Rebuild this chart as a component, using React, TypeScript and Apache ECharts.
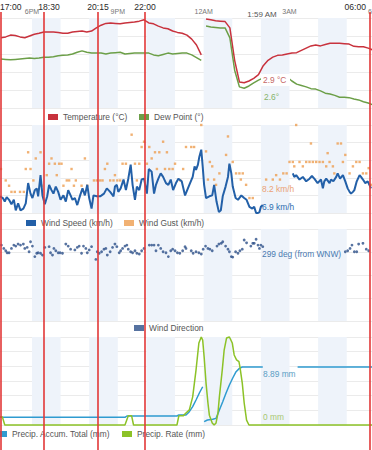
import React, { useEffect, useRef } from "react";
import * as echarts from "echarts";

// ---------- DATA (x = minutes after 17:00) ----------
const hourTickMinutes = [60, 240, 420, 600];
const hourTickLabels = ["6PM", "9PM", "12AM", "3AM"];
const shadedHourRanges = [
  [60, 120], [180, 240], [300, 360], [420, 480], [540, 600], [660, 720],
];

const tempStartMinute = -5;
const tempStepMinutes = 10;
const dayBreakMinute = 420;
const temperature = [
  7.8, 7.9, 8.1, 8.05, 7.9, 7.8, 8.0, 8.2, 8.3, 8.45,
  8.45, 8.45, 8.4, 8.3, 8.3, 8.45, 8.5, 8.55, 8.45, 8.55,
  8.9, 9.2, 9.4, 9.45, 9.4, 9.35, 9.45, 9.5, 9.55, 9.65,
  9.8, 9.45, 9.35, 9.1, 8.9, 8.8, 8.55, 8.4, 8.3, 8.1,
  7.65, 7.0, 5.9, 9.9, 9.8, 9.7, 9.65, 9.6, 8.9, 5.3,
  2.9, 2.8, 3.0, 3.3, 3.7, 4.7, 5.3, 5.65, 5.85, 5.9,
  6.0, 6.1, 6.15, 6.4, 6.65, 6.9, 7.0, 6.9, 7.05, 7.2,
  7.2, 7.2, 7.15, 7.1, 6.85, 6.8, 6.8, 6.65, 6.45,
];
const dewPoint = [
  5.45, 5.4, 5.35, 5.4, 5.45, 5.5, 5.55, 5.5, 5.55, 5.65,
  5.65, 5.7, 5.8, 5.85, 5.9, 6.0, 6.2, 6.35, 6.2, 6.1,
  6.1, 6.1, 6.0, 6.1, 6.15, 6.2, 6.0, 6.05, 6.1, 6.1,
  6.1, 6.1, 5.9, 5.8, 5.95, 6.1, 6.0, 6.05, 6.1, 6.1,
  5.9, 5.6, 5.3, 9.1, 9.0, 8.95, 8.9, 8.9, 7.8, 4.2,
  2.35, 2.2, 2.45, 2.8, 3.1, 3.35, 3.45, 3.45, 3.45, 3.45,
  3.45, 3.0, 2.65, 2.5, 2.35, 2.15, 2.1, 1.9, 1.65, 1.55,
  1.4, 1.2, 1.2, 1.15, 1.0, 0.9, 0.7, 0.55, 0.35,
];

const windSpeed: [number, number | null][] = [
  [-7, 7.9], [-1, 7.7], [3, 7.3], [7, 7.8], [12, 7.5], [17, 7.0], [22, 7.5], [26, 6.3], [31, 7.1], [36, 6.3],
  [42, 6.5], [47, 7.1], [52, 9.4], [57, 8.2], [61, 7.7], [66, 8.6], [70, 8.8], [73, 7.9], [78, 10.3], [82, 8.0],
  [87, 7.0], [92, 7.9], [96, 9.2], [101, 8.6], [105, 8.2], [110, 9.0], [115, 8.4], [120, 7.5], [126, 8.0], [131, 7.3],
  [136, 8.6], [141, 8.0], [145, 7.5], [150, 7.7], [155, 6.9], [161, 8.0], [166, 8.8], [171, 8.0], [176, 9.2], [180, 7.7],
  [185, 6.5], [189, 8.0], [196, 7.9], [203, 7.9], [206, 8.0], [211, 8.2], [217, 8.8], [224, 8.4], [231, 7.9], [234, 9.0],
  [238, 9.2], [241, 8.4], [246, 8.8], [252, 9.8], [257, 8.6], [262, 9.9], [267, 11.5], [271, 9.2], [276, 7.5], [280, 9.0],
  [285, 8.6], [290, 9.8], [295, 9.9], [301, 8.2], [305, 11.0], [311, 10.7], [316, 8.2], [320, 9.2], [325, 9.9], [330, 10.5],
  [335, 10.1], [341, 9.4], [346, 9.2], [351, 9.8], [356, 8.6], [362, 9.4], [367, 9.9], [374, 9.6], [381, 8.0], [390, 9.2],
  [397, 10.1], [401, 11.3], [404, 10.9], [408, 11.5], [411, 12.4], [415, 13.2], [418, 11.3], [421, 9.2], [425, 7.7], [432, 7.9],
  [438, 8.0], [442, 9.2], [447, 7.3], [452, 6.1], [456, 6.3], [460, 7.9], [466, 9.0], [471, 10.1], [474, 11.6], [478, 10.5],
  [481, 9.0], [487, 7.7], [492, 7.5], [499, 8.0], [505, 7.7], [510, 7.5], [516, 6.7], [522, 6.5], [526, 6.7], [530, 6.0],
  [534, 6.0], [537, 6.1], [540, 6.7], [544, 6.9], [575, null], [607, 10.5], [610, 10.1], [614, 10.3], [621, 9.8], [628, 10.1],
  [635, 9.6], [642, 9.9], [647, 10.2], [652, 9.9], [659, 9.4], [666, 9.8], [670, 8.8], [673, 9.6], [677, 9.9], [684, 9.4],
  [687, 9.8], [692, 9.6], [698, 10.1], [701, 10.5], [706, 9.9], [712, 10.3], [717, 9.6], [722, 8.8], [726, 8.4], [729, 8.2],
  [733, 8.4], [736, 8.6], [741, 9.6], [747, 10.3], [750, 10.1], [754, 9.8], [759, 9.4], [764, 9.6], [771, 8.8],
];

const windGust: [number, number][] = [
  [-5, 11.0], [5, 9.7], [12, 9.1], [17, 8.4], [24, 8.4], [35, 8.4], [43, 8.4], [47, 11.0], [52, 12.9], [57, 11.0],
  [63, 9.7], [68, 12.2], [78, 12.9], [80, 9.1], [91, 10.3], [96, 11.6], [101, 12.2], [108, 11.6], [112, 10.3], [117, 11.6],
  [122, 11.6], [126, 9.1], [133, 9.7], [138, 9.7], [143, 11.0], [148, 9.1], [152, 9.7], [164, 9.1], [171, 12.2], [176, 9.1],
  [190, 9.7], [196, 9.7], [203, 9.7], [208, 9.7], [213, 11.0], [218, 11.6], [224, 9.7], [231, 9.7], [234, 10.3], [239, 9.7],
  [245, 9.7], [250, 11.6], [257, 11.6], [267, 11.0], [269, 14.9], [276, 11.6], [280, 9.7], [285, 11.6], [290, 13.5], [295, 14.1],
  [301, 11.6], [306, 13.5], [311, 12.2], [318, 12.9], [322, 11.0], [327, 12.9], [335, 14.1], [339, 11.0], [343, 12.9], [348, 11.0],
  [355, 11.0], [360, 11.6], [371, 9.7], [377, 11.0], [383, 13.5], [394, 13.5], [400, 13.5], [415, 16.0], [425, 13.0], [429, 9.8],
  [433, 11.8], [438, 11.3], [442, 9.8], [446, 9.2], [453, 10.5], [467, 12.6], [471, 14.7], [474, 11.3], [481, 11.8], [488, 10.5],
  [495, 10.5], [498, 9.8], [502, 10.5], [509, 9.2], [516, 7.7], [523, 7.7], [551, 9.8], [565, 9.8], [572, 10.3], [580, 9.8],
  [587, 10.5], [594, 10.5], [600, 11.8], [607, 11.8], [610, 11.3], [614, 16.0], [621, 11.8], [628, 11.3], [635, 11.8], [642, 11.8],
  [645, 13.9], [649, 11.8], [656, 11.8], [663, 11.8], [670, 11.8], [677, 11.3], [680, 12.8], [684, 11.8], [691, 11.3], [694, 10.5],
  [701, 13.9], [708, 13.9], [712, 11.8], [717, 12.6], [726, 10.5], [733, 11.3], [740, 11.8], [747, 11.8], [754, 10.5], [761, 10.5],
  [766, 11.1], [771, 9.2],
];

const windDirection: [number, number][] = [
  [-4, 297], [1, 284], [5, 275], [8, 267], [12, 267], [17, 284], [22, 297], [26, 293], [31, 301], [36, 297],
  [42, 301], [45, 284], [50, 288], [54, 271], [57, 310], [61, 293], [66, 252], [70, 265], [73, 267], [78, 265],
  [82, 258], [87, 288], [96, 291], [99, 267], [103, 258], [106, 284], [110, 275], [115, 267], [119, 267], [124, 265],
  [131, 301], [136, 293], [141, 281], [150, 278], [155, 288], [159, 293], [164, 265], [168, 293], [173, 284], [176, 267],
  [180, 278], [185, 291], [194, 241], [197, 271], [201, 265], [206, 271], [211, 281], [215, 284], [218, 258], [224, 271],
  [229, 288], [234, 301], [238, 291], [243, 267], [246, 275], [250, 284], [255, 293], [259, 297], [262, 281], [267, 271],
  [271, 267], [276, 275], [280, 265], [285, 262], [290, 275], [295, 284], [306, 297], [311, 297], [316, 297], [320, 275],
  [325, 297], [330, 284], [335, 271], [341, 267], [346, 252], [351, 275], [355, 281], [360, 275], [365, 267], [370, 265],
  [376, 275], [381, 291], [383, 284], [394, 275], [398, 265], [404, 271], [410, 267], [415, 262], [419, 281], [424, 293],
  [429, 284], [433, 281], [438, 275], [448, 293], [452, 301], [457, 304], [460, 310], [466, 293], [471, 281], [474, 271],
  [478, 252], [481, 250], [487, 271], [492, 265], [496, 275], [501, 281], [505, 317], [510, 306], [519, 293], [523, 304],
  [526, 304], [530, 320], [534, 297], [537, 284], [540, 297], [544, 291], [717, 271], [722, 275], [727, 284], [731, 297],
  [736, 271], [741, 271], [745, 301], [754, 304], [761, 281], [766, 275],
];

const precipAccum: [number, number | null][] = [
  [-7, 1.18], [255, 1.18], [259, 1.38], [364, 1.38], [368, 1.53], [383, 1.53], [390, 2.04], [397, 2.81],
  [404, 3.83], [411, 4.91], [418, 5.87], [420, null], [421, 0.51], [428, 0.77], [439, 0.87], [446, 1.02],
  [453, 2.3], [460, 3.57], [467, 4.91], [474, 6.13], [481, 7.21], [488, 8.18], [495, 8.69], [501, 8.89],
  [544, 8.89], [580, null], [617, 8.89], [773, 8.89],
];

const precipRate: [number, number][] = [
  [-7, 2.3], [-2, 2.3], [3, 0], [255, 0], [262, 2.6], [269, 2.6], [273, 0], [364, 0], [368, 2.6], [377, 2.6],
  [383, 3.4], [390, 4.3], [397, 8.0], [404, 15.6], [410, 23.3], [415, 25.0], [418, 24.1], [421, 19.4], [425, 11.9], [429, 6.25],
  [432, 2.8], [438, 0.6], [442, 0], [446, 0.6], [450, 3.4], [453, 8.0], [459, 15.6], [463, 21.3], [468, 24.7], [474, 25.0],
  [480, 23.3], [484, 19.9], [489, 18.5], [494, 18.0], [496, 16.6], [501, 11.9], [505, 6.25], [510, 1.4], [515, 0], [773, 0],
];

// ---------- STYLE / LAYOUT ----------
const FONT = "'Liberation Sans', Arial, sans-serif";
const FS = 8.4;
const X_MIN = -7;
const X_MAX = 773;
const BAND = "#eef3fa";
const GRID_LINE = "#ebebeb";
const C_TEMP = "#c8323d";
const C_DEW = "#6c9f48";
const C_WIND = "#2360a8";
const C_GUST = "#ee9d50";
const C_DIR = "#2c4f88";
const C_ACC = "#2f9bd0";
const C_RATE = "#8cc227";

const grids = [
  { left: 0, right: 0, top: 18, height: 90 },
  { left: 0, right: 0, top: 125, height: 88 },
  { left: 0, right: 0, top: 229, height: 92 },
  { left: 0, right: 0, top: 337, height: 88 },
];

const annotations = [
  { text: "17:00", lineX: 1, labelX: 0, align: "left" },
  { text: "18:30", lineX: 44, labelX: 49, align: "center" },
  { text: "20:15", lineX: 98, labelX: 98, align: "center" },
  { text: "22:00", lineX: 145, labelX: 145, align: "center" },
  { text: "06:00", lineX: 370, labelX: 366, align: "right" },
];

const hoverLabels = [
  { text: "2.9 °C", x: 263, y: 80, color: "#c56767" },
  { text: "2.6°", x: 264, y: 97, color: "#86b46a" },
  { text: "8.2 km/h", x: 262, y: 189, color: "#eba274" },
  { text: "6.9 km/h", x: 262, y: 207, color: "#2d6db0" },
  { text: "299 deg (from WNW)", x: 262, y: 254, color: "#4a7ab0" },
  { text: "8.89 mm", x: 263, y: 374, color: "#5a9ec4" },
  { text: "0 mm", x: 263, y: 417, color: "#a9c873" },
];

function toLine(pairs: [number, number | null][]) {
  return pairs.map(([m, v]) => [m, v === null ? "-" : v]);
}

function buildOption() {
  const tempData = temperature.map((v, i) => [tempStartMinute + i * tempStepMinutes, v]);
  const dewData = dewPoint.map((v, i) => [tempStartMinute + i * tempStepMinutes, v]);
  const withBreak = (d: any[]) => [...d, [dayBreakMinute, "-"]].sort((a, b) => a[0] - b[0]);

  const xAxis = grids.map((_, i) => ({
    type: "value",
    gridIndex: i,
    min: X_MIN,
    max: X_MAX,
    position: "top",
    show: i === 0,
    axisLine: { show: false },
    axisTick: { show: false },
    splitLine: { show: false },
    axisLabel: {
      show: i === 0,
      customValues: hourTickMinutes,
      formatter: (v: number) => hourTickLabels[hourTickMinutes.indexOf(v)] ?? "",
      fontSize: 7,
      color: "#777",
      fontFamily: FONT,
      margin: 3,
    },
  }));

  const yBase = {
    type: "value",
    axisLabel: { show: false },
    axisLine: { show: false },
    axisTick: { show: false },
    splitLine: { show: true, lineStyle: { color: GRID_LINE, width: 1 } },
  };
  const yAxis = [
    { ...yBase, gridIndex: 0, min: 0, max: 10, interval: 2 },
    { ...yBase, gridIndex: 1, min: 6, max: 16, interval: 2 },
    { ...yBase, gridIndex: 2, min: 0, max: 360, interval: 90 },
    { ...yBase, gridIndex: 3, min: 0, max: 13.5, interval: 2.25 },
    { ...yBase, gridIndex: 3, min: 0, max: 25, splitLine: { show: false } },
  ];

  const bandSeries = grids.map((_, i) => ({
    type: "line",
    name: "band" + i,
    xAxisIndex: i,
    yAxisIndex: i,
    data: [],
    silent: true,
    z: 1,
    markArea: {
      silent: true,
      itemStyle: { color: BAND },
      data: shadedHourRanges.map(([a, b]) => [{ xAxis: a }, { xAxis: b }]),
    },
  }));

  const lineCommon = { type: "line", showSymbol: false, silent: true, z: 3, emphasis: { disabled: true } };

  const series = [
    ...bandSeries,
    { ...lineCommon, name: "Temperature (°C)", xAxisIndex: 0, yAxisIndex: 0, color: C_TEMP, lineStyle: { width: 1.5, color: C_TEMP }, data: withBreak(tempData) },
    { ...lineCommon, name: "Dew Point (°)", xAxisIndex: 0, yAxisIndex: 0, color: C_DEW, lineStyle: { width: 1.5, color: C_DEW }, data: withBreak(dewData) },
    { ...lineCommon, name: "Wind Speed (km/h)", xAxisIndex: 1, yAxisIndex: 1, color: C_WIND, lineStyle: { width: 2, color: C_WIND }, data: toLine(windSpeed) },
    { type: "scatter", name: "Wind Gust (km/h)", xAxisIndex: 1, yAxisIndex: 1, color: C_GUST, symbol: "rect", symbolSize: 2.4, silent: true, z: 2, data: windGust },
    { type: "scatter", name: "Wind Direction", xAxisIndex: 2, yAxisIndex: 2, color: C_DIR, symbolSize: 2.8, silent: true, z: 2, data: windDirection },
    { ...lineCommon, name: "Precip. Accum. Total (mm)", xAxisIndex: 3, yAxisIndex: 3, color: C_ACC, lineStyle: { width: 1.5, color: C_ACC }, data: toLine(precipAccum) },
    { ...lineCommon, name: "Precip. Rate (mm)", xAxisIndex: 3, yAxisIndex: 4, color: C_RATE, clip: false, lineStyle: { width: 1.5, color: C_RATE }, data: precipRate },
  ];

  const legendItems = [
    { name: "Temperature (°C)", left: 48, top: 113 },
    { name: "Dew Point (°)", left: 139, top: 113 },
    { name: "Wind Speed (km/h)", left: 26, top: 219 },
    { name: "Wind Gust (km/h)", left: 124, top: 219 },
    { name: "Wind Direction", left: 134, top: 324 },
    { name: "Precip. Accum. Total (mm)", left: -3, top: 430 },
    { name: "Precip. Rate (mm)", left: 122, top: 430 },
  ];
  const legend = legendItems.map((it) => ({
    data: [it.name],
    left: it.left,
    top: it.top,
    padding: 0,
    icon: "rect",
    itemWidth: 10,
    itemHeight: 6,
    selectedMode: false,
    textStyle: { fontSize: FS, color: "#555", fontFamily: FONT },
  }));

  const graphic: any[] = [];
  // white box behind the temperature readout
  graphic.push({ type: "rect", z: 50, shape: { x: 261, y: 74, width: 29, height: 12 }, style: { fill: "#fff" } });
  hoverLabels.forEach((h) =>
    graphic.push({
      type: "text",
      z: 60,
      x: h.x,
      y: h.y,
      style: { text: h.text, fill: h.color, fontSize: FS, fontFamily: FONT, textAlign: "left", textVerticalAlign: "middle" },
    })
  );
  graphic.push({
    type: "text",
    z: 60,
    x: 262,
    y: 14,
    style: { text: "1:59 AM", fill: "#555", fontSize: 8, fontFamily: FONT, textAlign: "center", textVerticalAlign: "middle" },
  });
  graphic.push({
    type: "text",
    z: 60,
    x: 368,
    y: 11,
    style: { text: "6AM", fill: "#777", fontSize: 7, fontFamily: FONT, textAlign: "left", textVerticalAlign: "middle" },
  });
  annotations.forEach((a) => {
    graphic.push({
      type: "line",
      z: 100,
      shape: { x1: a.lineX, y1: 12, x2: a.lineX, y2: 450 },
      style: { stroke: "#e23838", lineWidth: 1.6 },
    });
    graphic.push({
      type: "text",
      z: 100,
      x: a.labelX,
      y: 7,
      style: { text: a.text, fill: "#2a2a2a", fontSize: 8.6, fontFamily: FONT, textAlign: a.align, textVerticalAlign: "middle" },
    });
  });

  return {
    animation: false,
    backgroundColor: "#fff",
    grid: grids,
    xAxis,
    yAxis,
    legend,
    series,
    graphic,
  };
}

export default function App() {
  const ref = useRef<HTMLDivElement>(null);
  useEffect(() => {
    if (!ref.current) return;
    const chart = echarts.init(ref.current, null, { renderer: "svg" });
    chart.setOption(buildOption() as any);
    return () => chart.dispose();
  }, []);
  return (
    <div
      ref={ref}
      style={{ position: "fixed", left: 0, top: 0, width: 372, height: 450 }}
    />
  );
}
